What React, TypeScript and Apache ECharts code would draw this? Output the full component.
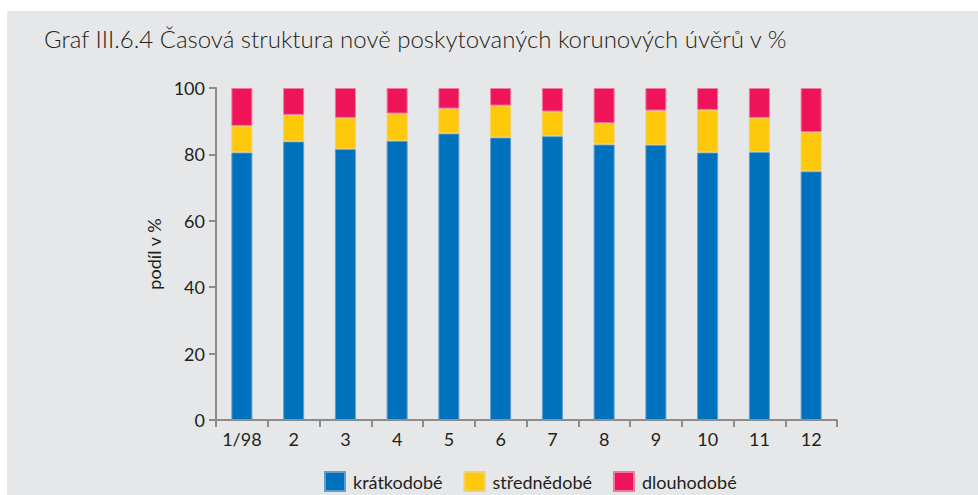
import React, { useEffect, useRef } from "react";
import * as echarts from "echarts";

const categories = ["1/98", "2", "3", "4", "5", "6", "7", "8", "9", "10", "11", "12"];
const shortTerm = [80.6, 83.9, 81.6, 84.1, 86.3, 85.1, 85.5, 83.0, 82.9, 80.6, 80.7, 74.9];
const mediumTerm = [8.0, 8.0, 9.4, 8.2, 7.5, 9.6, 7.4, 6.4, 10.3, 12.8, 10.3, 11.8];
const longTerm = [11.4, 8.1, 9.0, 7.7, 6.2, 5.3, 7.1, 10.6, 6.8, 6.6, 9.0, 13.3];
const seriesNames = ["krátkodobé", "střednědobé", "dlouhodobé"];
const titleText = "Graf III.6.4 Časová struktura nově poskytovaných korunových úvěrů v %";
const yAxisName = "podíl v %";

const FONT = "Lato";

export default function App() {
  const ref = useRef<HTMLDivElement>(null);
  useEffect(() => {
    document.body.style.margin = "0";
    if (!ref.current) return;
    const chart = echarts.init(ref.current, null, { renderer: "svg" });
    const barBase = {
      type: "bar" as const,
      stack: "total",
      barWidth: 21,
    };
    chart.setOption({
      animation: false,
      backgroundColor: "#ffffff",
      textStyle: { fontFamily: FONT },
      graphic: [
        {
          type: "rect",
          z: -10,
          shape: { x: 7, y: 11, width: 980, height: 500 },
          style: { fill: "#e6e7e9" },
          silent: true,
        },
        {
          type: "text",
          x: 44,
          y: 26,
          style: {
            text: titleText,
            fontFamily: FONT,
            fontSize: 24,
            fontWeight: 300,
            fill: "#231f20",
          },
        },
      ],
      legend: {
        left: 324,
        top: 471,
        padding: 0,
        itemWidth: 20,
        itemHeight: 19,
        itemGap: 21,
        icon: "rect",
        textStyle: { fontSize: 18, color: "#231f20", fontFamily: FONT, padding: [0, 0, 0, 3] },
        data: seriesNames,
      },
      grid: { left: 216, right: 141, top: 88, bottom: 75, containLabel: false },
      xAxis: {
        type: "category",
        data: categories,
        boundaryGap: true,
        axisLine: { lineStyle: { color: "#8c8c8c", width: 2 } },
        axisTick: { show: true, length: 7, lineStyle: { color: "#8c8c8c", width: 2 } },
        axisLabel: { fontSize: 18, color: "#231f20", margin: 10, fontFamily: FONT },
      },
      yAxis: {
        type: "value",
        min: 0,
        max: 100,
        interval: 20,
        name: yAxisName,
        nameLocation: "middle",
        nameGap: 50,
        nameRotate: 90,
        nameTextStyle: { fontSize: 18, color: "#231f20", fontFamily: FONT },
        axisLine: { show: true, lineStyle: { color: "#8c8c8c", width: 2 } },
        axisTick: { show: true, length: 7, lineStyle: { color: "#8c8c8c", width: 2 } },
        axisLabel: { fontSize: 18, color: "#231f20", margin: 11, fontFamily: FONT },
        splitLine: { show: false },
      },
      series: [
        {
          ...barBase,
          name: seriesNames[0],
          data: shortTerm,
          itemStyle: { color: "#0071bc", borderColor: "#5f9fcf", borderWidth: 1 },
        },
        {
          ...barBase,
          name: seriesNames[1],
          data: mediumTerm,
          itemStyle: { color: "#ffc90b", borderColor: "#f4d060", borderWidth: 1 },
        },
        {
          ...barBase,
          name: seriesNames[2],
          data: longTerm,
          itemStyle: { color: "#ef1459", borderColor: "#ee7aa0", borderWidth: 1 },
        },
      ],
    });
    return () => chart.dispose();
  }, []);
  return <div ref={ref} style={{ width: 978, height: 495 }} />;
}
